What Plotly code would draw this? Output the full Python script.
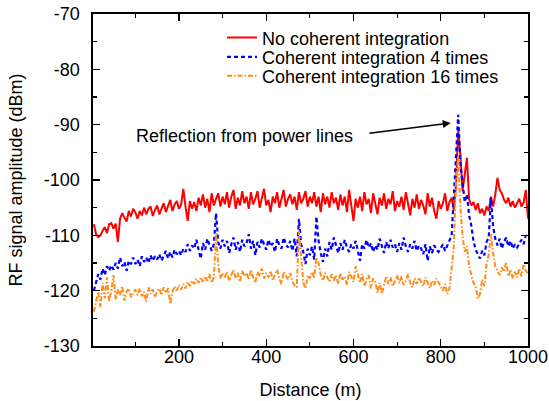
import plotly.graph_objects as go

distance = list(range(5, 1001, 5))

no_integration = [
    -108.0, -109.8, -110.3, -110.0, -109.2, -108.5, -109.6, -108.0, -107.8, -108.8,
    -107.9, -111.2, -107.0, -106.0, -106.8, -107.5, -105.6, -106.6, -105.2, -105.8,
    -107.0, -105.6, -106.4, -105.0, -106.2, -105.2, -104.8, -106.5, -105.4, -104.6,
    -106.2, -105.0, -104.2, -105.8, -104.6, -103.6, -105.6, -104.4, -103.8, -105.2,
    -104.4, -101.6, -104.8, -107.4, -103.8, -105.2, -104.0, -105.6, -103.2, -104.6,
    -102.6, -105.0, -103.4, -105.8, -102.4, -104.6, -103.4, -102.4, -104.8, -103.0,
    -104.4, -102.2, -105.0, -103.0, -101.8, -105.2, -103.2, -104.6, -102.0, -104.2,
    -103.0, -105.2, -102.2, -104.4, -103.4, -102.0, -105.0, -103.0, -101.6, -104.6,
    -103.6, -105.8, -103.0, -104.2, -102.2, -105.0, -103.2, -101.8, -104.8, -103.4,
    -102.6, -104.4, -103.0, -105.4, -102.2, -104.2, -103.4, -102.0, -104.8, -103.0,
    -104.2, -102.2, -104.8, -103.0, -105.8, -102.4, -104.4, -103.0, -105.0, -102.2,
    -104.2, -103.2, -105.4, -102.6, -104.6, -103.0, -105.8, -101.8, -104.6, -107.4,
    -103.4, -105.0, -103.0, -105.6, -102.2, -104.4, -103.4, -106.0, -102.4, -104.2,
    -106.2, -103.2, -104.6, -102.4, -105.2, -103.4, -104.4, -102.0, -105.6, -103.8,
    -104.8, -103.0, -105.4, -102.2, -104.6, -106.4, -103.4, -105.0, -102.6, -105.2,
    -103.6, -104.6, -106.2, -102.4, -104.8, -103.2, -105.6, -107.0, -103.8, -105.2,
    -104.2, -102.4, -105.6, -104.0, -103.2, -105.4, -100.8, -91.0, -95.5, -102.0,
    -99.0, -96.0, -103.5, -104.6, -104.0, -105.4, -104.2, -106.0, -105.2, -106.4,
    -104.8, -105.6, -103.0, -104.8, -102.6, -99.6, -101.8, -102.4, -103.6, -104.2,
    -103.2, -104.8, -103.8, -105.0, -104.2, -103.4, -104.8, -104.0, -101.8, -107.0,
]

integration_4 = [
    -120.0, -118.5, -117.0, -118.0, -116.0, -117.2, -115.6, -116.4, -115.4, -116.2,
    -115.0, -116.0, -114.0, -115.6, -114.8, -116.4, -114.6, -115.2, -114.0, -115.2,
    -114.4, -115.6, -113.8, -114.8, -114.0, -115.0, -113.6, -114.6, -113.8, -114.4,
    -113.4, -114.6, -113.6, -112.8, -114.2, -113.0, -114.0, -112.6, -113.4, -112.8,
    -113.6, -112.4, -113.0, -111.6, -112.8, -111.8, -112.4, -110.8, -112.6, -114.2,
    -111.4, -112.6, -110.6, -111.8, -112.8, -111.6, -106.0, -111.2, -112.4, -110.8,
    -112.0, -111.0, -113.2, -111.6, -110.4, -112.6, -111.2, -113.0, -110.8, -112.0,
    -111.4, -109.8, -112.4, -111.0, -113.6, -111.2, -112.2, -110.6, -111.8, -112.6,
    -110.8, -112.0, -111.4, -113.0, -110.6, -111.8, -112.4, -110.4, -111.6, -112.2,
    -111.0, -112.8, -110.6, -113.8, -107.0, -111.6, -113.0, -115.2, -112.4, -113.6,
    -112.0, -114.4, -106.6, -111.0, -113.2, -114.8, -112.4, -113.8, -111.2, -112.6,
    -110.4, -112.0, -113.2, -111.4, -112.6, -110.8, -112.2, -113.0, -111.6, -112.4,
    -111.0, -112.8, -114.6, -111.6, -112.4, -110.8, -112.2, -111.4, -113.0, -111.8,
    -112.6, -110.6, -112.0, -113.2, -111.2, -112.4, -110.8, -112.2, -111.6, -113.0,
    -111.4, -112.6, -110.4, -112.0, -113.0, -111.6, -112.4, -111.0, -112.8, -111.8,
    -112.4, -113.4, -111.6, -114.6, -112.0, -113.2, -111.8, -112.6, -113.0, -112.2,
    -111.6, -112.8, -111.8, -111.0, -110.0, -103.0, -95.0, -88.2, -97.0, -100.0,
    -104.0, -102.6, -106.4, -108.2, -111.0, -112.6, -113.4, -114.2, -112.8, -113.6,
    -111.2, -110.4, -103.2, -108.4, -110.6, -111.8, -110.6, -112.4, -111.2, -110.4,
    -112.0, -111.0, -112.4, -111.6, -112.2, -111.4, -110.8, -111.6, -110.0, -110.6,
]

integration_16 = [
    -123.8, -122.0, -120.2, -123.0, -118.6, -121.4, -117.6, -122.0, -120.0, -117.2,
    -121.6, -119.8, -120.8, -119.2, -121.8, -120.2, -119.6, -121.2, -120.4, -119.8,
    -120.8, -119.6, -121.0, -120.2, -122.0, -119.4, -120.6, -119.8, -121.2, -120.0,
    -119.6, -120.8, -119.4, -120.4, -119.6, -122.4, -120.2, -119.2, -120.0, -119.0,
    -119.8, -118.8, -119.6, -118.4, -119.2, -118.2, -118.8, -117.8, -118.6, -117.6,
    -118.4, -117.4, -118.2, -117.0, -118.6, -117.6, -109.6, -115.4, -117.8, -116.8,
    -117.6, -116.6, -118.2, -117.0, -116.2, -117.8, -116.8, -118.4, -116.4, -117.4,
    -116.8, -118.0, -116.2, -117.6, -118.6, -116.6, -117.4, -116.0, -117.8, -116.8,
    -117.6, -116.4, -118.2, -117.0, -116.2, -117.8, -118.8, -116.6, -117.4, -118.0,
    -116.8, -118.4, -119.0, -119.4, -109.2, -114.2, -118.6, -119.6, -117.2, -117.8,
    -116.6, -117.8, -114.0, -115.0, -117.2, -118.2, -116.8, -117.6, -118.4, -117.0,
    -118.2, -117.2, -118.8, -116.8, -118.0, -117.4, -119.0, -116.6, -117.6, -118.4,
    -115.6, -117.4, -118.6, -117.0, -119.2, -118.0, -117.2, -119.6, -117.8, -118.4,
    -120.4, -118.6, -120.6, -119.0, -117.4, -118.8, -117.6, -119.2, -118.0, -117.2,
    -118.6, -117.4, -119.0, -118.2, -117.0, -118.6, -119.4, -117.8, -118.8, -117.6,
    -118.4, -119.2, -117.6, -118.8, -119.6, -118.2, -119.0, -117.8, -118.6, -119.4,
    -120.0, -118.8, -120.6, -119.6, -116.0, -112.0, -100.0, -95.6, -105.0, -110.0,
    -113.0, -112.0, -115.6, -117.0, -118.6, -119.2, -121.4, -120.6, -118.0, -119.2,
    -115.2, -113.4, -109.8, -113.2, -115.6, -116.4, -117.2, -115.8, -116.6, -114.8,
    -117.4, -116.2, -117.8, -116.6, -117.6, -116.0, -117.4, -115.2, -116.4, -117.0,
]

series_names = ["No coherent integration", "Coherent integration 4 times",
                "Coherent integration 16 times"]

x_ticks = [200, 400, 600, 800, 1000]
x_ticklabels = ["200", "400", "600", "800", "1000"]
y_ticks = [-130, -120, -110, -100, -90, -80, -70]
y_ticklabels = ["-130", "-120", "-110", "-100", "-90", "-80", "-70"]

FONT = "Arial, Liberation Sans, sans-serif"
FS = 18

fig = go.Figure()
fig.add_trace(go.Scatter(x=distance, y=no_integration, mode="lines", name=series_names[0],
                         line=dict(color="#ff0000", width=2.0), legend="legend"))
fig.add_trace(go.Scatter(x=distance, y=integration_4, mode="lines", name=series_names[1],
                         line=dict(color="#0000ff", width=2.2, dash="4px,3px"),
                         legend="legend2"))
fig.add_trace(go.Scatter(x=distance, y=integration_16, mode="lines", name=series_names[2],
                         line=dict(color="#ff8c1a", width=2.0, dash="5px,2px,1.5px,2px"),
                         legend="legend3"))

axis_common = dict(showline=True, linecolor="black", linewidth=1.6, mirror="ticks",
                   ticks="inside", ticklen=7, tickwidth=1.3, tickcolor="black",
                   showgrid=False, zeroline=False, automargin=False,
                   tickmode="array", ticklabeloverflow="allow",
                   tickfont=dict(family=FONT, size=FS, color="black"))

fig.update_xaxes(range=[3, 1000], tickvals=x_ticks, ticktext=x_ticklabels,
                 ticklabelstandoff=-6,
                 minor=dict(tickvals=[100, 300, 500, 700, 900], ticks="inside", ticklen=4,
                            tickcolor="black", tickwidth=1.2),
                 title=dict(text="Distance (m)", font=dict(family=FONT, size=FS, color="black"),
                            standoff=17),
                 **axis_common)
fig.update_yaxes(range=[-130, -70], tickvals=y_ticks, ticktext=y_ticklabels,
                 ticklabelstandoff=8,
                 minor=dict(tickvals=[-125, -115, -105, -95, -85, -75], ticks="inside",
                            ticklen=4, tickcolor="black", tickwidth=1.2),
                 title=dict(text="RF signal amplitude (dBm)",
                            font=dict(family=FONT, size=FS, color="black"), standoff=16),
                 **axis_common)

fig.add_annotation(x=350, y=-92.0, xref="x", yref="y", text="Reflection from power lines",
                   showarrow=False, font=dict(family=FONT, size=FS, color="black"))
fig.add_annotation(x=823, y=-89.7, ax=633, ay=-91.6, xref="x", yref="y", axref="x", ayref="y",
                   text="", showarrow=True, arrowhead=2, arrowsize=1, arrowwidth=1.6,
                   arrowcolor="black")

legend_common = dict(x=0.2966, xanchor="left", yanchor="middle", bgcolor="rgba(0,0,0,0)",
                     font=dict(family=FONT, size=FS, color="black"), itemwidth=30)

fig.update_layout(
    width=549, height=401,
    margin=dict(l=93, r=21, t=14, b=55, autoexpand=False),
    paper_bgcolor="white", plot_bgcolor="white",
    font=dict(family=FONT, size=FS, color="black"),
    legend=dict(y=0.928, **legend_common),
    legend2=dict(y=0.870, **legend_common),
    legend3=dict(y=0.813, **legend_common),
    showlegend=True,
)

# remove the browser's default 8px body margin so the figure fills the window exactly
fig.write_html("out.html",
               config={"displayModeBar": False, "staticPlot": True},
               post_script="document.body.style.margin='0';document.body.style.overflow='hidden';")
